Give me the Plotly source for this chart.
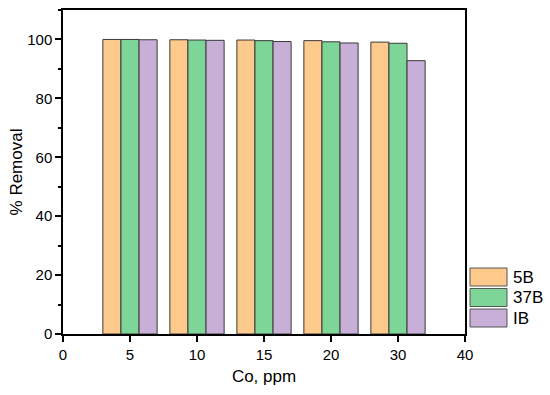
import plotly.graph_objects as go

tick_labels = ["0", "5", "10", "15", "20", "30", "40"]
categories = ["5", "10", "15", "20", "30"]
series_names = ["5B", "37B", "IB"]
removal_5B = [100.0, 99.9, 99.8, 99.6, 99.1]
removal_37B = [100.0, 99.8, 99.6, 99.2, 98.7]
removal_IB = [99.9, 99.7, 99.3, 98.8, 92.8]
colors = ["#FECA8C", "#7DD598", "#C8AFD7"]

positions = [tick_labels.index(c) for c in categories]
series = [removal_5B, removal_37B, removal_IB]

FONT = "Liberation Sans, Arial"

fig = go.Figure()
for name, vals, col in zip(series_names, series, colors):
    fig.add_trace(go.Bar(x=positions, y=vals, name=name,
                         marker=dict(color=col, line=dict(color="#3a3a3a", width=1)),
                         showlegend=False))

axis_common = dict(showline=True, linecolor="black", linewidth=1.5, mirror=True, ticks="outside",
                   tickcolor="black", tickwidth=1.5, showgrid=False, zeroline=False, automargin=False,
                   tickfont=dict(family=FONT, size=15, color="black"))

fig.update_layout(
    width=550, height=395,
    margin=dict(l=63, r=85, t=10, b=61),
    paper_bgcolor="white", plot_bgcolor="white",
    barmode="group", bargap=0.19, bargroupgap=0,
    xaxis=dict(range=[0, 6], tickmode="array", tickvals=list(range(len(tick_labels))), ticktext=tick_labels,
               ticklen=6,
               title=dict(text="Co, ppm", font=dict(family=FONT, size=17, color="black"), standoff=8),
               **axis_common),
    yaxis=dict(range=[0, 110], tickmode="array", tickvals=[0, 20, 40, 60, 80, 100], ticklen=6,
               minor=dict(tickvals=[10, 30, 50, 70, 90, 110], ticks="outside", ticklen=3,
                          tickcolor="black", tickwidth=1.5),
               title=dict(text="% Removal", font=dict(family=FONT, size=17, color="black"), standoff=0),
               **axis_common),
    font=dict(family=FONT, color="black"),
)

# custom legend with wide swatches
for i, (name, col) in enumerate(zip(series_names, colors)):
    y_top = 268 + i * 20.5
    fig.add_shape(type="rect", xref="paper", yref="paper",
                  x0=(470 - 63) / 402, x1=(507 - 63) / 402,
                  y0=(334 - (y_top + 18)) / 324, y1=(334 - y_top) / 324,
                  fillcolor=col, line=dict(color="#555555", width=1))
    fig.add_annotation(xref="paper", yref="paper", x=(511 - 63) / 402, y=(334 - (y_top + 9)) / 324,
                       text=name, showarrow=False, xanchor="left", yanchor="middle",
                       font=dict(family=FONT, size=17, color="black"))

fig.write_html("out.html", config={"displayModeBar": False},
               post_script="document.body.style.margin='0';document.documentElement.style.margin='0';")
